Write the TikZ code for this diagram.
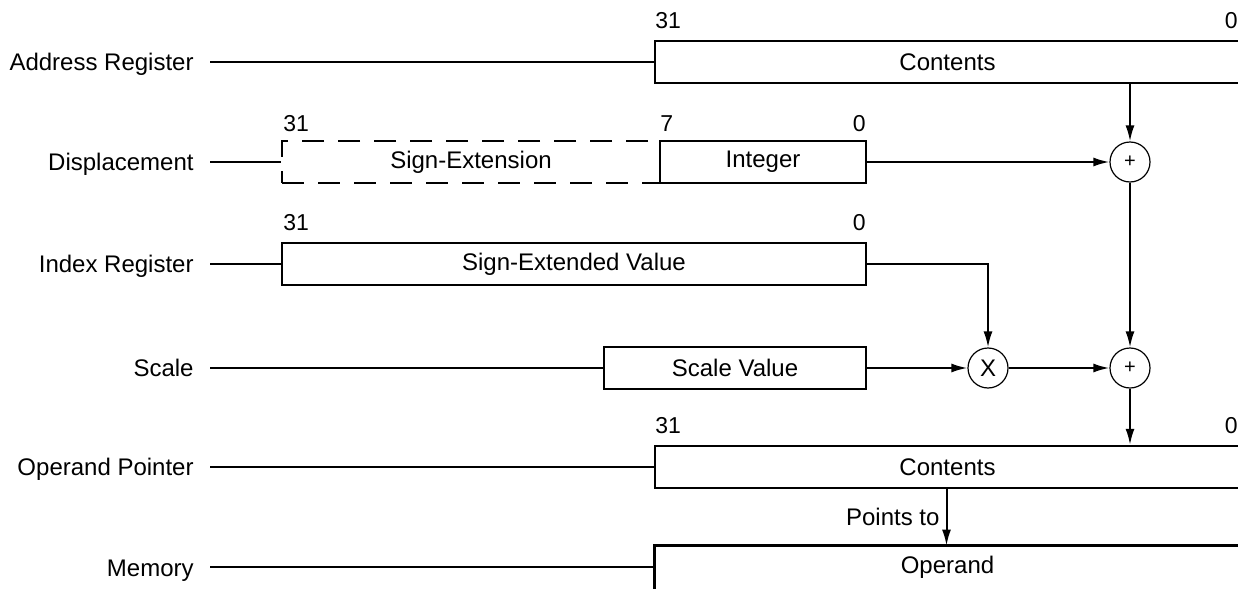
\documentclass[tikz,border=0pt]{standalone}
\usepackage{fontspec}
\setmainfont{Liberation Sans}
\usetikzlibrary{arrows.meta}
\begin{document}
\begin{tikzpicture}[x=0.5pt,y=-0.5pt,
  lbl/.style={font=\fontsize{12}{14}\selectfont, anchor=base east, inner sep=0pt},
  reg/.style={draw, line width=1.2pt, inner sep=0pt, minimum height=21pt, font=\fontsize{12}{14}\selectfont},
  dreg/.style={reg, dash pattern=on 11pt off 7pt},
  bitnum/.style={font=\fontsize{11.5}{13}\selectfont, inner sep=0pt},
  opc/.style={draw, circle, line width=0.6pt, minimum size=20pt, inner sep=0pt},
  wire/.style={line width=1pt},
  arr/.style={line width=1pt, -{Latex[length=8pt,width=4.5pt]}}
]
\useasboundingbox (0,0) rectangle (1238,589);
\clip (0,0) rectangle (1238,589);

% row labels
\node[lbl] (laddr) at (194,70) {Address Register};
\node[lbl] (ldisp) at (194,170) {Displacement};
\node[lbl] (lidx)  at (194,272) {Index Register};
\node[lbl] (lscl)  at (194,376) {Scale};
\node[lbl] (lop)   at (194,475) {Operand Pointer};
\node[lbl] (lmem)  at (194,576) {Memory};
\coordinate (saddr) at (210,62);
\coordinate (sdisp) at (210,162);
\coordinate (sidx)  at (210,264);
\coordinate (sscl)  at (210,368);
\coordinate (sop)   at (210,467);
\coordinate (smem)  at (210,567);

% registers
\node[reg, minimum width=292.5pt] (addr) at (947.5,62) {Contents};
\node[dreg, minimum width=189pt] (dsgn) at (471,162) {Sign-Extension};
\node[reg, minimum width=103pt] (dint) at (763,162) {Integer};
\node[reg, minimum width=292pt] (idx) at (574,264) {Sign-Extended Value};
\node[reg, minimum width=131pt] (scl) at (735,368) {Scale Value};
\node[reg, minimum width=292.5pt] (opp) at (947.5,467) {Contents};
\node[inner sep=0pt, minimum height=21pt, minimum width=292.5pt, font=\fontsize{12}{14}\selectfont] (mem) at (947.5,567) {Operand};
\draw[line width=1.2pt] ([yshift=-30pt]mem.south west) -- (mem.north west) -- ([xshift=4pt]mem.north east);

% bit numbers
\node[bitnum, anchor=base west] (a31) at (655,28) {31};
\node[bitnum, anchor=base east] (a0) at (1238,28) {0};
\node[bitnum, anchor=base west] (d31) at (283,131) {31};
\node[bitnum, anchor=base west] (d7) at (660,131) {7};
\node[bitnum, anchor=base east] (d0) at (866,131) {0};
\node[bitnum, anchor=base west] (i31) at (283,230) {31};
\node[bitnum, anchor=base east] (i0) at (866,230) {0};
\node[bitnum, anchor=base west] (o31) at (655,433) {31};
\node[bitnum, anchor=base east] (o0) at (1238,433) {0};

% operators
\node[opc, font=\fontsize{10}{12}\selectfont] (plus1) at (1130,162) {+};
\node[opc, font=\fontsize{12}{14}\selectfont] (mul) at (988,368) {X};
\node[opc, font=\fontsize{10}{12}\selectfont] (plus2) at (1130,368) {+};

% row lines
\draw[wire] (saddr) -- (addr.west);
\draw[wire] (sdisp) -- (dsgn.west);
\draw[wire] (sidx) -- (idx.west);
\draw[wire] (sscl) -- (scl.west);
\draw[wire] (sop) -- (opp.west);
\draw[wire] (smem) -- (mem.west);

% data flow
\draw[arr] (addr.south -| plus1.north) -- (plus1.north);
\draw[arr] (dint.east) -- (plus1.west);
\draw[arr] (plus1.south) -- (plus2.north);
\draw[arr] (idx.east) -| (mul.north);
\draw[arr] (scl.east) -- (mul.west);
\draw[arr] (mul.east) -- (plus2.west);
\draw[arr] (plus2.south) -- (opp.north -| plus2.south);
\draw[arr] ([xshift=-0.5pt]opp.south) -- node[left, font=\fontsize{12}{14}\selectfont, inner sep=3pt] {Points to} ([xshift=-0.5pt]mem.north);
\end{tikzpicture}
\end{document}
